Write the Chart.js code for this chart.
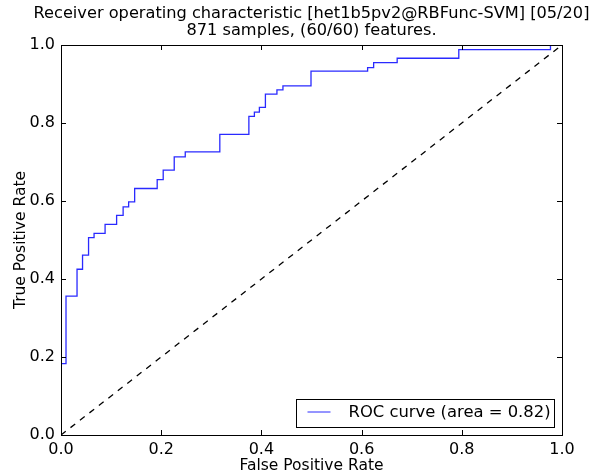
<!DOCTYPE html>
<html>
<head>
<meta charset="utf-8">
<script src="https://cdn.jsdelivr.net/npm/chart.js@4.4.0/dist/chart.umd.min.js"></script>
<style>
  body { margin: 0; background: #fff; }
  #wrap { width: 597px; height: 475px; }
</style>
</head>
<body>
<div id="wrap"><canvas id="roc" width="597" height="475"></canvas></div>
<script>
// ROC vertices
const fpr = [0, 0, 0.010, 0.010, 0.032, 0.032, 0.043, 0.043, 0.055, 0.055, 0.066, 0.066,
  0.088, 0.088, 0.111, 0.111, 0.124, 0.124, 0.135, 0.135, 0.147, 0.147, 0.192, 0.192,
  0.204, 0.204, 0.226, 0.226, 0.248, 0.248, 0.317, 0.317, 0.375, 0.375, 0.386, 0.386,
  0.396, 0.396, 0.408, 0.408, 0.431, 0.431, 0.443, 0.443, 0.499, 0.499, 0.612, 0.612,
  0.624, 0.624, 0.671, 0.671, 0.794, 0.794, 0.977, 0.977, 1.0]
const tpr = [0, 0.183, 0.183, 0.356, 0.356, 0.425, 0.425, 0.461, 0.461, 0.506, 0.506, 0.517,
  0.517, 0.540, 0.540, 0.563, 0.563, 0.585, 0.585, 0.598, 0.598, 0.632, 0.632, 0.655,
  0.655, 0.679, 0.679, 0.713, 0.713, 0.726, 0.726, 0.771, 0.771, 0.817, 0.817, 0.828,
  0.828, 0.840, 0.840, 0.874, 0.874, 0.885, 0.885, 0.895, 0.895, 0.933, 0.933, 0.942,
  0.942, 0.955, 0.955, 0.966, 0.966, 0.988, 0.988, 1.0, 1.0]
const chanceLine = [0, 1]
const tickValues = [0, 0.2, 0.4, 0.6, 0.8, 1.0]
const rocArea = 0.82

const titleLines = ['Receiver operating characteristic [het1b5pv2@RBFunc-SVM] [05/20]',
  '871 samples, (60/60) features.']

const font = 'DejaVu Sans'

// title centred over the axes, frame, inward ticks and boxed legend (matplotlib look)
const framePlugin = {
  id: 'frame',
  afterDraw (chart) {
    const { ctx, chartArea: a, scales } = chart
    ctx.save()
    ctx.fillStyle = '#000'
    ctx.font = '16.2px ' + font
    ctx.textAlign = 'center'
    ctx.textBaseline = 'middle'
    const cx = (a.left + a.right) / 2
    ctx.fillText(titleLines[0], cx, 14)
    ctx.fillText(titleLines[1], cx, 31)

    ctx.strokeStyle = '#000'
    ctx.lineWidth = 1
    ctx.strokeRect(a.left + 0.5, a.top + 0.5, a.right - a.left, a.bottom - a.top)
    ctx.beginPath()
    tickValues.forEach(v => {
      const x = Math.round(scales.x.getPixelForValue(v)) + 0.5
      const y = Math.round(scales.y.getPixelForValue(v)) + 0.5
      ctx.moveTo(x, a.bottom); ctx.lineTo(x, a.bottom - 5)
      ctx.moveTo(x, a.top); ctx.lineTo(x, a.top + 5)
      ctx.moveTo(a.left, y); ctx.lineTo(a.left + 5, y)
      ctx.moveTo(a.right, y); ctx.lineTo(a.right - 5, y)
    })
    ctx.stroke()

    // legend box
    const ds = chart.data.datasets[0]
    const bx = 296.5; const by = 399.5; const bw = 258; const bh = 28
    ctx.fillStyle = '#fff'
    ctx.fillRect(bx, by, bw, bh)
    ctx.strokeRect(bx, by, bw, bh)
    ctx.strokeStyle = ds.borderColor
    ctx.beginPath()
    ctx.moveTo(bx + 11, by + 12.5)
    ctx.lineTo(bx + 34, by + 12.5)
    ctx.stroke()
    ctx.fillStyle = '#000'
    ctx.font = '16.4px ' + font
    ctx.textAlign = 'left'
    ctx.fillText(ds.label, bx + 52, by + 13)
    ctx.restore()
  }
}

new Chart(document.getElementById('roc'), {
  type: 'scatter',
  data: {
    datasets: [{
      label: 'ROC curve (area = ' + rocArea.toFixed(2) + ')',
      data: fpr.map((x, i) => ({ x: x, y: tpr[i] })),
      showLine: true,
      borderColor: '#2a2aff',
      borderWidth: 1.3,
      pointRadius: 0,
      tension: 0
    }, {
      label: 'chance',
      data: chanceLine.map(v => ({ x: v, y: v })),
      showLine: true,
      borderColor: '#000',
      borderWidth: 1.3,
      borderDash: [6, 6],
      pointRadius: 0
    }]
  },
  options: {
    responsive: false,
    animation: false,
    layout: { padding: { left: 0, right: 35, top: 45, bottom: 0 } },
    plugins: {
      legend: { display: false },
      tooltip: { enabled: false },
      title: { display: false }
    },
    scales: {
      x: {
        type: 'linear',
        min: 0,
        max: 1,
        afterBuildTicks: s => { s.ticks = tickValues.map(v => ({ value: v })) },
        afterFit: s => { s.height = 40 },
        grid: { display: false, tickLength: 0 },
        border: { display: false },
        ticks: {
          color: '#000',
          font: { family: font, size: 16 },
          padding: 5,
          maxRotation: 0,
          callback: v => v.toFixed(1)
        },
        title: {
          display: true,
          text: 'False Positive Rate',
          color: '#000',
          font: { family: font, size: 15.5 },
          padding: { top: 0, bottom: 0 }
        }
      },
      y: {
        type: 'linear',
        min: 0,
        max: 1,
        afterBuildTicks: s => { s.ticks = tickValues.map(v => ({ value: v })) },
        afterFit: s => { s.width = 61 },
        grid: { display: false, tickLength: 0 },
        border: { display: false },
        ticks: {
          color: '#000',
          font: { family: font, size: 16 },
          padding: 6,
          callback: v => v.toFixed(1)
        },
        title: {
          display: true,
          text: 'True Positive Rate',
          color: '#000',
          font: { family: font, size: 15.5 },
          padding: { top: 12, bottom: 0 }
        }
      }
    }
  },
  plugins: [framePlugin]
})
</script>
</body>
</html>
